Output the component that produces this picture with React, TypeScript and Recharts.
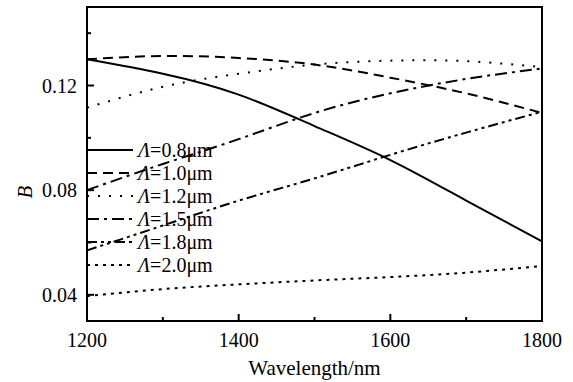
import React from "react";
import {
  Legend,
  Line,
  LineChart,
  ReferenceArea,
  XAxis,
  YAxis,
} from "recharts";

const wavelengths = [1200, 1300, 1400, 1500, 1600, 1700, 1800];
const b08 = [0.13, 0.1245, 0.1165, 0.1045, 0.0915, 0.076, 0.0604];
const b10 = [0.13, 0.1313, 0.1305, 0.128, 0.123, 0.117, 0.1095];
const b12 = [0.1115, 0.1195, 0.1245, 0.128, 0.1295, 0.1293, 0.127];
const b15 = [0.08, 0.09, 0.0995, 0.1095, 0.117, 0.1225, 0.1265];
const b18 = [0.057, 0.0665, 0.076, 0.0845, 0.0935, 0.102, 0.11];
const b20 = [0.0395, 0.0422, 0.044, 0.0455, 0.0468, 0.0485, 0.051];

const xTicks = [1200, 1300, 1400, 1500, 1600, 1700, 1800];
const xLabelled = [1200, 1400, 1600, 1800];
const yTicks = [0.04, 0.06, 0.08, 0.1, 0.12, 0.14];
const yLabelled = [0.04, 0.08, 0.12];

const series = [
  { key: "b08", label: "0.8", dash: undefined },
  { key: "b10", label: "1.0", dash: "10 6" },
  { key: "b12", label: "1.2", dash: "2 9" },
  { key: "b15", label: "1.5", dash: "12 5 3 5" },
  { key: "b18", label: "1.8", dash: "10 4 3 4 3 4" },
  { key: "b20", label: "2.0", dash: "3 5" },
];

const data = wavelengths.map((w, i) => ({
  w,
  b08: b08[i],
  b10: b10[i],
  b12: b12[i],
  b15: b15[i],
  b18: b18[i],
  b20: b20[i],
}));

const FONT = '"Liberation Serif", "Times New Roman", serif';

function XTick(props: any) {
  const { x, y, payload } = props;
  const major = xLabelled.includes(payload.value);
  const axisY = y - 8;
  return (
    <g>
      <line x1={x} x2={x} y1={axisY} y2={axisY - (major ? 7 : 4)} stroke="#000" strokeWidth={2} />
      {major && (
        <text x={x} y={y + 18} textAnchor="middle" fontFamily={FONT} fontSize={20} fill="#000">
          {payload.value}
        </text>
      )}
    </g>
  );
}

function YTick(props: any) {
  const { x, y, payload } = props;
  const major = yLabelled.some((v) => Math.abs(v - payload.value) < 1e-6);
  const axisX = x + 10;
  return (
    <g>
      <line x1={axisX} x2={axisX + (major ? 7 : 4)} y1={y} y2={y} stroke="#000" strokeWidth={2} />
      {major && (
        <text x={x} y={y + 7} textAnchor="end" fontFamily={FONT} fontSize={20} fill="#000">
          {payload.value.toFixed(2)}
        </text>
      )}
    </g>
  );
}

function LegendBox() {
  return (
    <svg width={150} height={140} style={{ display: "block" }}>
      {series.map((s, i) => {
        const cy = 10 + 23 * i;
        return (
          <g key={s.key}>
            <line x1={0} x2={46} y1={cy} y2={cy} stroke="#000" strokeWidth={2} strokeDasharray={s.dash} />
            <text x={51} y={cy + 7} fontFamily={FONT} fontSize={20} fill="#000">
              <tspan fontStyle="italic">Λ</tspan>={s.label}μm
            </text>
          </g>
        );
      })}
    </svg>
  );
}

export default function App() {
  return (
    <div style={{ position: "absolute", left: 0, top: 0, background: "#fff" }}>
      <LineChart width={573} height={382} data={data} margin={{ top: 7, right: 31, left: 0, bottom: 0 }}>
        <XAxis
          dataKey="w"
          type="number"
          domain={[1200, 1800]}
          ticks={xTicks}
          tick={<XTick />}
          tickLine={false}
          tickSize={0}
          tickMargin={8}
          height={61}
          axisLine={false}
          label={{ value: "Wavelength/nm", position: "insideBottom", offset: 7, fontFamily: FONT, fontSize: 21, fill: "#000" }}
        />
        <YAxis
          type="number"
          domain={[0.03, 0.15]}
          ticks={yTicks}
          tick={<YTick />}
          tickLine={false}
          tickSize={0}
          tickMargin={10}
          width={87}
          axisLine={false}
          allowDataOverflow
          label={() => (
            <text
              x={25}
              y={192}
              transform="rotate(-90 25 192)"
              textAnchor="middle"
              dominantBaseline="central"
              fontFamily={FONT}
              fontStyle="italic"
              fontSize={21}
              fill="#000"
            >
              B
            </text>
          )}
        />
        {series.map((s) => (
          <Line
            key={s.key}
            dataKey={s.key}
            type="natural"
            stroke="#000"
            strokeWidth={2}
            strokeDasharray={s.dash}
            dot={false}
            activeDot={false}
            isAnimationActive={false}
          />
        ))}
        <ReferenceArea x1={1200} x2={1800} y1={0.03} y2={0.15} fill="none" stroke="#000" strokeWidth={2} ifOverflow="visible" />
        <Legend
          layout="vertical"
          align="center"
          verticalAlign="middle"
          wrapperStyle={{ left: 87, top: 140, width: 150 }}
          content={() => <LegendBox />}
        />
      </LineChart>
    </div>
  );
}
